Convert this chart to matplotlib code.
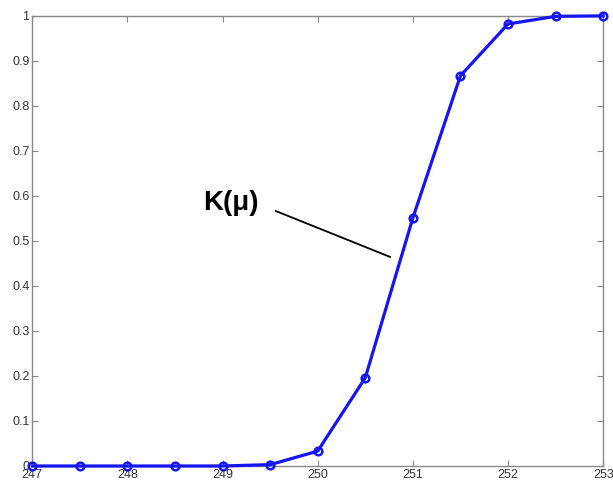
import matplotlib
matplotlib.use('Agg')
import matplotlib.pyplot as plt

# ── Data ──
mu = [247, 247.5, 248, 248.5, 249, 249.5, 250, 250.5, 251, 251.5, 252, 252.5, 253]
K = [0.0, 0.0, 0.0, 0.0, 0.0, 0.003, 0.033, 0.196, 0.551, 0.867, 0.982, 0.999, 1.0]
xticks = [247, 248, 249, 250, 251, 252, 253]
yticks = [0, 0.1, 0.2, 0.3, 0.4, 0.5, 0.6, 0.7, 0.8, 0.9, 1]
ytick_labels = ['0', '0.1', '0.2', '0.3', '0.4', '0.5', '0.6', '0.7', '0.8', '0.9', '1']

plt.rcParams['font.family'] = ['Liberation Sans', 'DejaVu Sans']

fig = plt.figure(figsize=(6.13, 4.84), dpi=100)
ax = fig.add_axes([0.0525, 0.0372, 0.9315, 0.930])

ax.plot(mu, K, color='#1414f5', lw=2.3, marker='o', ms=5.5, mfc='none',
        mec='#1414f5', mew=1.8, clip_on=False, zorder=3)

ax.set_xlim(247, 253)
ax.set_ylim(0, 1)
ax.set_xticks(xticks)
ax.set_xticklabels([str(t) for t in xticks])
ax.set_yticks(yticks)
ax.set_yticklabels(ytick_labels)

for s in ax.spines.values():
    s.set_color('#888888')
    s.set_linewidth(1.0)
ax.tick_params(direction='in', length=4, width=0.8, color='#888888',
               top=True, right=True, labelsize=9, labelcolor='#333333')
ax.tick_params(axis='x', pad=2.5)
ax.tick_params(axis='y', pad=2)

# K(mu) label with leader line
ax.annotate('', xy=(250.79, 0.462), xytext=(249.53, 0.569),
            arrowprops=dict(arrowstyle='-', color='black', lw=1.3))
ax.text(249.38, 0.584, 'K(μ)', fontsize=20, fontweight='bold', ha='right', va='center')

plt.savefig('out.png', dpi=100)
plt.close()
